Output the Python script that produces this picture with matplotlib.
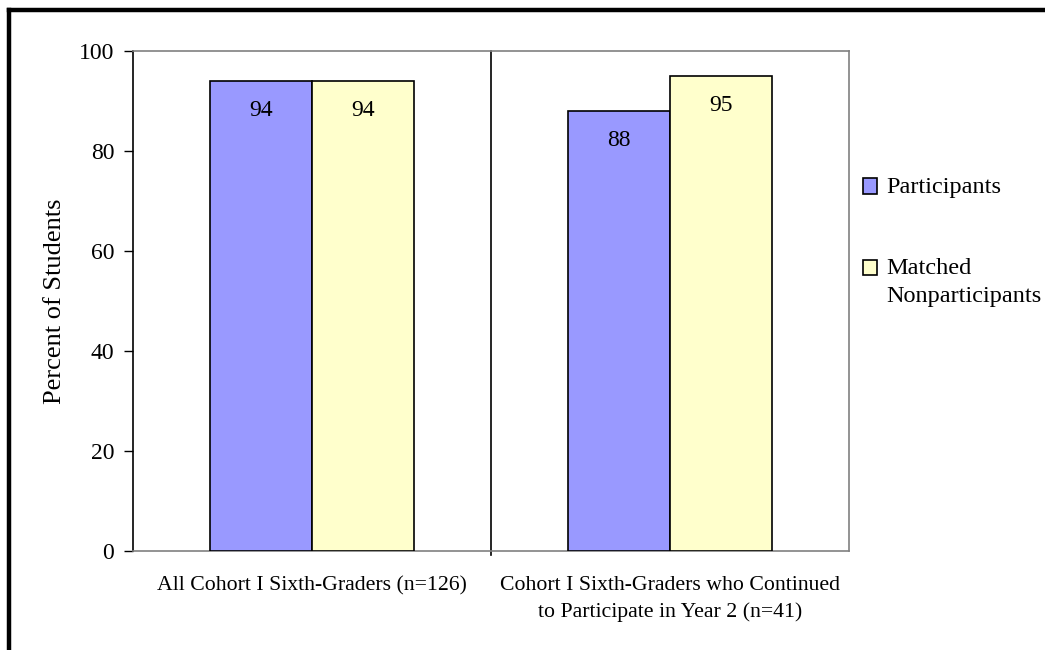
import matplotlib
matplotlib.use("Agg")
import matplotlib.pyplot as plt
from matplotlib.lines import Line2D
from matplotlib.patches import Rectangle
import numpy as np

plt.rcParams["font.family"] = ["Liberation Serif", "DejaVu Serif"]

categories = [
    "All Cohort I Sixth-Graders (n=126)",
    "Cohort I Sixth-Graders who Continued\nto Participate in Year 2 (n=41)",
]
series_names = ["Participants", "Matched\nNonparticipants"]
participants = [94, 88]
nonparticipants = [94, 95]
series_values = [participants, nonparticipants]
series_colors = ["#9999FF", "#FFFFCC"]
y_ticks = [0, 20, 40, 60, 80, 100]

W, H = 1045, 650
fig = plt.figure(figsize=(W / 100, H / 100), dpi=100)
ax = fig.add_axes([133 / W, 1 - 551 / H, 716 / W, 500 / H])

x = np.arange(len(categories))
bar_w = 1 / 3.5
offsets = [-bar_w / 2, bar_w / 2]
for vals, off, col, name in zip(series_values, offsets, series_colors, series_names):
    bars = ax.bar(x + off, vals, width=bar_w, color=col, edgecolor="black",
                  linewidth=1.2, label=name, zorder=3)
    for rect, v in zip(bars, vals):
        ax.annotate(f"{v}", (rect.get_x() + rect.get_width() / 2, v),
                    xytext=(0, -21), textcoords="offset points",
                    ha="center", va="center", fontsize=17, zorder=4)

ax.set_xlim(-0.5, len(categories) - 0.5)
ax.set_ylim(0, 100)
ax.set_yticks(y_ticks)
ax.tick_params(axis="y", direction="out", length=6.5, width=1, labelsize=17,
               pad=7, colors="black")
ax.set_xticks(x)
ax.set_xticklabels(categories, fontsize=15.7, linespacing=1.5)
ax.tick_params(axis="x", length=0, pad=18)

# category separator
ax.axvline(0.5, ymin=-0.008, ymax=1, color="black", lw=1.2, clip_on=False, zorder=2)

for side in ["top", "right", "bottom"]:
    ax.spines[side].set_color("#808080")
    ax.spines[side].set_linewidth(1.2)
ax.spines["left"].set_color("black")
ax.spines["left"].set_linewidth(1.2)

ax.set_ylabel("Percent of Students", fontsize=19)
ax.yaxis.set_label_coords(-0.094, 0.5)

# legend: square swatch beside the first line of each label
legend_rows = [186, 267]
for name, col, yc in zip(series_names, series_colors, legend_rows):
    fig.add_artist(Rectangle((863 / W, 1 - (yc + 7.5) / H), 14 / W, 15 / H,
                             transform=fig.transFigure, facecolor=col,
                             edgecolor="black", linewidth=1.2))
    fig.text(886 / W, 1 - (yc - 9) / H, name, fontsize=17.5, ha="left", va="top",
             linespacing=1.45)

# page frame along top and left edges
fig.add_artist(Line2D([9 / W, 1], [1 - 9.5 / H, 1 - 9.5 / H],
                      transform=fig.transFigure, color="black", lw=3.2))
fig.add_artist(Line2D([9 / W, 9 / W], [0, 1 - 9.5 / H],
                      transform=fig.transFigure, color="black", lw=3.2))

fig.savefig("out.png", dpi=100)
